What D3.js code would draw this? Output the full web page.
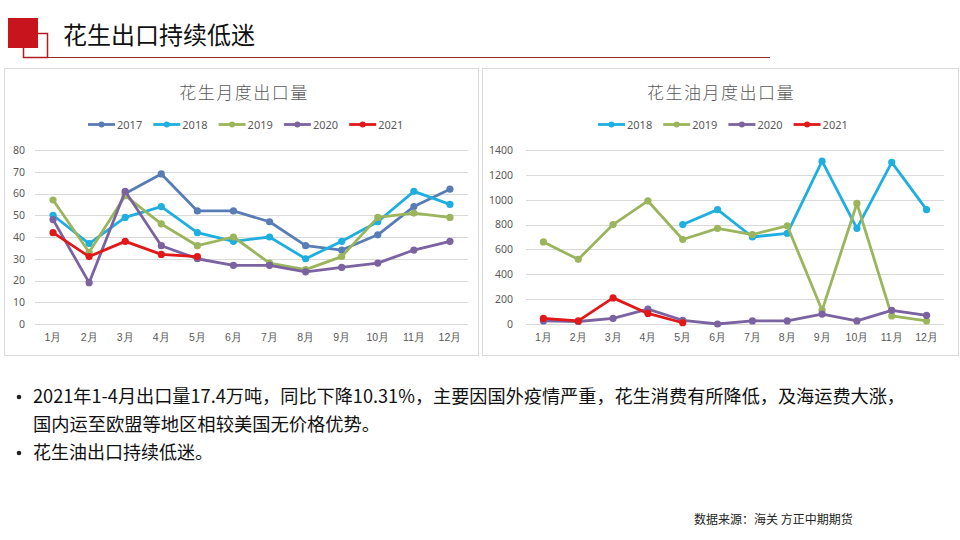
<!DOCTYPE html>
<html>
<head>
<meta charset="utf-8">
<script src="https://cdn.jsdelivr.net/npm/d3@7/dist/d3.min.js"></script>
<style>
html,body{margin:0;padding:0;background:#fff;}
svg{display:block;font-family:"Noto Sans CJK SC","Noto Sans",sans-serif;}
</style>
</head>
<body>
<svg id="c" width="960" height="540"></svg>
<script>
const months = ["1月","2月","3月","4月","5月","6月","7月","8月","9月","10月","11月","12月"];

// 花生月度出口量 (left)
const peanutYears = ["2017","2018","2019","2020","2021"];
const peanut2017 = [null,null,60,69,52,52,47,36,34,41,54,62];
const peanut2018 = [50,37,49,54,42,38,40,30,38,47,61,55];
const peanut2019 = [57,33,59,46,36,40,28,25,31,49,51,49];
const peanut2020 = [48,19,61,36,30,27,27,24,26,28,34,38];
const peanut2021 = [42,31,38,32,31,null,null,null,null,null,null,null];
const peanutTicks = [0,10,20,30,40,50,60,70,80];

// 花生油月度出口量 (right)
const oilYears = ["2018","2019","2020","2021"];
const oil2018 = [null,null,null,null,800,920,700,730,1310,770,1300,920];
const oil2019 = [660,520,800,990,680,770,720,790,110,970,65,25];
const oil2020 = [25,20,45,120,30,0,25,25,80,25,110,70];
const oil2021 = [45,25,210,85,10,null,null,null,null,null,null,null];
const oilTicks = [0,200,400,600,800,1000,1200,1400];

const colors = {"2017":"#587CB6","2018":"#1EAFE0","2019":"#9BB55C","2020":"#7B62A0","2021":"#E01818"};

const svg = d3.select("#c");

// Header
svg.append("rect").attr("x",23.5).attr("y",33.5).attr("width",24).attr("height",24)
  .attr("fill","none").attr("stroke","#B01E23").attr("stroke-width",1.5);
svg.append("rect").attr("x",8).attr("y",18).attr("width",30).attr("height",30).attr("fill","#C8141C");
svg.append("line").attr("x1",47).attr("x2",770).attr("y1",57.5).attr("y2",57.5)
  .attr("stroke","#8E2A2A").attr("stroke-width",1);
svg.append("text").attr("x",63).attr("y",44).attr("font-size",24).attr("fill","#111")
  .text("花生出口持续低迷");

function panel(cfg){
  const g = svg.append("g");
  g.append("rect").attr("x",cfg.px+0.5).attr("y",cfg.py+0.5).attr("width",cfg.pw).attr("height",cfg.ph)
    .attr("fill","#fff").attr("stroke","#D9D9D9");
  const x = d3.scaleBand().domain(months).range([cfg.x0,cfg.x1]);
  const y = d3.scaleLinear().domain([0,cfg.max]).range([cfg.y0,cfg.y1]);
  // gridlines
  g.append("g").selectAll("line").data(cfg.ticks).join("line")
    .attr("x1",cfg.x0).attr("x2",cfg.x1)
    .attr("y1",d=>Math.round(y(d))+0.5).attr("y2",d=>Math.round(y(d))+0.5)
    .attr("stroke","#D9D9D9").attr("stroke-width",1);
  // y axis labels
  const ya = d3.axisLeft(y).tickValues(cfg.ticks).tickFormat(d3.format("d")).tickSize(0).tickPadding(0);
  const yg = g.append("g").attr("transform",`translate(${cfg.ylab},0)`).call(ya);
  yg.select(".domain").remove();
  yg.selectAll("text").attr("font-size",10.5).attr("fill","#595959").attr("font-family","'Noto Sans','DejaVu Sans',sans-serif");
  // x axis labels
  const xa = d3.axisBottom(x).tickSize(0).tickPadding(0);
  const xg = g.append("g").attr("transform",`translate(0,${cfg.xlab})`).call(xa);
  xg.select(".domain").remove();
  xg.selectAll("text").attr("font-size",10.5).attr("fill","#595959");
  // title
  g.append("text").attr("x",cfg.tx).attr("y",cfg.ty).attr("text-anchor","middle")
    .attr("font-size",17).attr("fill","#595959").attr("font-weight",300)
    .attr("letter-spacing",1.5).text(cfg.title);
  // lines
  const cx = m => x(m)+x.bandwidth()/2;
  cfg.series.forEach(s=>{
    const pts = s.values.map((v,i)=>({m:months[i],v}));
    const line = d3.line().defined(d=>d.v!=null).x(d=>cx(d.m)).y(d=>y(d.v));
    g.append("path").datum(pts).attr("d",line).attr("fill","none")
      .attr("stroke",colors[s.name]).attr("stroke-width",2.8).attr("stroke-linejoin","round");
    g.append("g").selectAll("circle").data(pts.filter(d=>d.v!=null)).join("circle")
      .attr("cx",d=>cx(d.m)).attr("cy",d=>y(d.v)).attr("r",3.6).attr("fill",colors[s.name]);
  });
  // legend
  cfg.series.forEach((s,i)=>{
    const lx = cfg.lx + i*cfg.lstep;
    const lg = g.append("g");
    lg.append("line").attr("x1",lx).attr("x2",lx+27).attr("y1",cfg.ly).attr("y2",cfg.ly)
      .attr("stroke",colors[s.name]).attr("stroke-width",2.8);
    lg.append("circle").attr("cx",lx+13.5).attr("cy",cfg.ly).attr("r",3).attr("fill",colors[s.name]);
    lg.append("text").attr("x",lx+29).attr("y",cfg.ly+4).attr("font-size",11)
      .attr("fill","#595959").attr("font-family","'Noto Sans','DejaVu Sans',sans-serif").text(s.name);
  });
}

panel({
  px:4, py:68, pw:474, ph:287,
  x0:35, x1:468, y0:324, y1:150, max:80, ticks:peanutTicks,
  ylab:25, xlab:334,
  title:"花生月度出口量", tx:244, ty:99,
  lx:88, lstep:65.3, ly:124.5,
  series:[
    {name:"2017",values:peanut2017},
    {name:"2018",values:peanut2018},
    {name:"2019",values:peanut2019},
    {name:"2020",values:peanut2020},
    {name:"2021",values:peanut2021}
  ]
});

panel({
  px:482, py:68, pw:476, ph:287,
  x0:526, x1:944, y0:324, y1:150, max:1400, ticks:oilTicks,
  ylab:513, xlab:334,
  title:"花生油月度出口量", tx:721, ty:99,
  lx:598, lstep:65.2, ly:124.5,
  series:[
    {name:"2018",values:oil2018},
    {name:"2019",values:oil2019},
    {name:"2020",values:oil2020},
    {name:"2021",values:oil2021}
  ]
});

// Bullets
const bullets = [
  {b:true, y:403, text:"2021年1-4月出口量17.4万吨，同比下降10.31%，主要因国外疫情严重，花生消费有所降低，及海运费大涨，", len:872},
  {b:false, y:431, text:"国内运至欧盟等地区相较美国无价格优势。", len:347},
  {b:true, y:459, text:"花生油出口持续低迷。", len:180}
];
bullets.forEach(d=>{
  if(d.b) svg.append("circle").attr("cx",19).attr("cy",d.y-6).attr("r",2.3).attr("fill","#222");
  svg.append("text").attr("x",33).attr("y",d.y).attr("font-size",18).attr("fill","#111")
    .attr("textLength",d.len).attr("lengthAdjust","spacingAndGlyphs").text(d.text);
});

svg.append("text").attr("x",694).attr("y",524).attr("font-size",12).attr("fill","#222")
  .text("数据来源：海关 方正中期期货");
</script>
</body>
</html>
